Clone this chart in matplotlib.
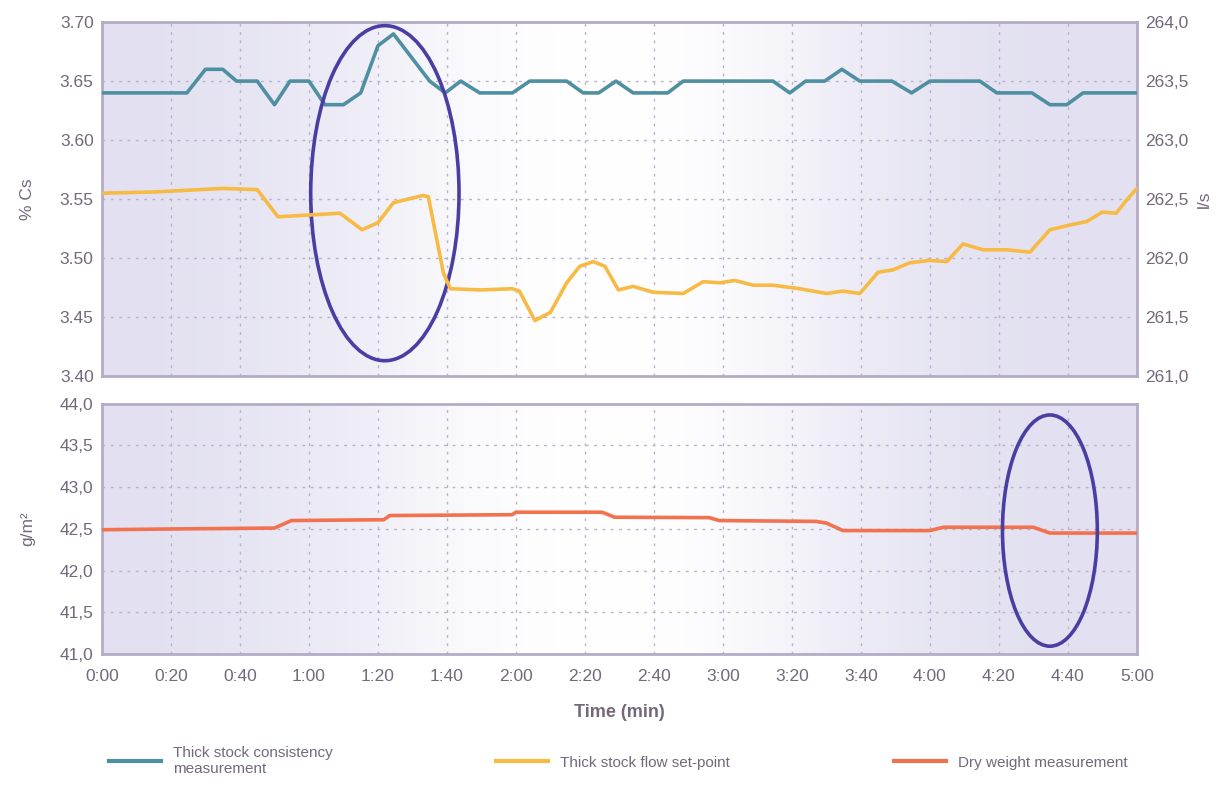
import matplotlib.pyplot as plt
import numpy as np
from matplotlib.colors import LinearSegmentedColormap
from matplotlib.lines import Line2D
from matplotlib.patches import Ellipse
from matplotlib.ticker import FuncFormatter, MultipleLocator

# time in seconds
t_cons = [0, 24.6, 30, 35, 39, 45, 50, 54.5, 60, 64.6, 70, 75, 80, 84.5, 95, 99.5,
          104, 109.5, 119, 124, 134.7, 139.5, 144, 149, 154, 164, 168.5, 194.5,
          199.4, 204, 209.5, 214.5, 219.7, 229, 234.7, 240, 254.5, 259.4, 269.6,
          274.8, 279.7, 284.4, 300]
v_cons = [3.64, 3.64, 3.66, 3.66, 3.65, 3.65, 3.63, 3.65, 3.65, 3.63, 3.63, 3.64,
          3.68, 3.69, 3.65, 3.64, 3.65, 3.64, 3.64, 3.65, 3.65, 3.64, 3.64, 3.65,
          3.64, 3.64, 3.65, 3.65, 3.64, 3.65, 3.65, 3.66, 3.65, 3.65, 3.64, 3.65,
          3.65, 3.64, 3.64, 3.63, 3.63, 3.64, 3.64]

t_flow = [0, 15, 35, 45, 51, 69, 75.4, 80, 84.5, 93, 94.6, 99, 101, 110, 119, 121,
          125.5, 130, 134.7, 138.5, 142.4, 145.8, 149.7, 154, 159.8, 168.5, 174.3,
          179, 183.5, 188.8, 194.5, 202.3, 210, 214.8, 219.7, 225, 229.3, 234.2,
          240, 244.9, 249.6, 255.4, 262.3, 269, 274.8, 280.6, 285.5, 290, 294, 297, 300]
v_flow = [262.55, 262.56, 262.59, 262.58, 262.35, 262.38, 262.24, 262.30, 262.47,
          262.53, 262.52, 261.87, 261.74, 261.73, 261.74, 261.72, 261.47, 261.54,
          261.79, 261.93, 261.97, 261.93, 261.73, 261.76, 261.71, 261.70, 261.80,
          261.79, 261.81, 261.77, 261.77, 261.74, 261.70, 261.72, 261.70, 261.88,
          261.90, 261.96, 261.98, 261.97, 262.12, 262.07, 262.07, 262.05, 262.24,
          262.28, 262.31, 262.39, 262.38, 262.49, 262.59]

t_dry = [0, 21.7, 50, 54.9, 81.7, 83.4, 118.9, 120, 145, 148.6, 176, 179, 207, 210,
         214.8, 240, 244, 270, 274.8, 300]
v_dry = [42.49, 42.50, 42.51, 42.60, 42.61, 42.66, 42.67, 42.70, 42.70, 42.64,
         42.635, 42.60, 42.59, 42.57, 42.48, 42.48, 42.52, 42.52, 42.45, 42.45]

x_ticks = list(range(0, 301, 20))
x_labels = [f"{s // 60}:{s % 60:02d}" for s in x_ticks]

labels = ["Thick stock consistency\nmeasurement", "Thick stock flow set-point",
          "Dry weight measurement"]

c_cons = "#4f8fa2"
c_flow = "#f7bb45"
c_dry = "#f2714f"
c_text = "#74687c"
c_frame = "#b4acc6"
c_grid = "#b8b2cc"
c_ring = "#4b3ea3"

plt.rcParams["font.family"] = ["Liberation Sans", "DejaVu Sans"]

fig = plt.figure(figsize=(12.29, 7.90), dpi=100)
ax1 = fig.add_axes([0.083, 0.524, 0.842, 0.448])
ax3 = fig.add_axes([0.083, 0.172, 0.842, 0.317])

bg = LinearSegmentedColormap.from_list("bg", ["#e3e1f1", "#ffffff"])
grad = np.array([[0.0, 0.15, 0.4, 0.85, 1.0, 1.0, 0.7, 0.25, 0.05, 0.0]])


def style(ax):
    ax.set_xlim(0, 300)
    ax.imshow(grad, cmap=bg, aspect="auto", extent=[0, 1, 0, 1],
              transform=ax.transAxes, zorder=0, interpolation="bicubic", vmin=0, vmax=1)
    ax.set_xticks(x_ticks)
    ax.grid(True, color=c_grid, linestyle=(0, (2, 4)), linewidth=1.0)
    for sp in ax.spines.values():
        sp.set_color(c_frame)
        sp.set_linewidth(2)
    ax.tick_params(length=0, labelsize=12.5, labelcolor=c_text, pad=6)
    ax.tick_params(axis="x", pad=11)


style(ax1)
ax1.set_ylim(3.40, 3.70)
ax1.yaxis.set_major_locator(MultipleLocator(0.05))
ax1.yaxis.set_major_formatter(FuncFormatter(lambda v, p: f"{v:.2f}"))
ax1.set_xticklabels([])
ax1.plot(t_cons, v_cons, color=c_cons, lw=2.6, zorder=3)
ax1.set_ylabel("% Cs", color=c_text, fontsize=12.5, labelpad=18)

ax2 = ax1.twinx()
ax2.set_ylim(261.0, 264.0)
ax2.yaxis.set_major_locator(MultipleLocator(0.5))
ax2.yaxis.set_major_formatter(FuncFormatter(lambda v, p: f"{v:.1f}".replace(".", ",")))
ax2.tick_params(length=0, labelsize=12.5, labelcolor=c_text, pad=6)
for sp in ax2.spines.values():
    sp.set_visible(False)
ax2.plot(t_flow, v_flow, color=c_flow, lw=2.6, zorder=3, solid_joinstyle="round")
ax2.set_ylabel("l/s", color=c_text, fontsize=12.5, labelpad=6)

ax1.add_patch(Ellipse((82, 3.555), 43, 0.284, fill=False, edgecolor=c_ring,
                      lw=2.6, zorder=5))

style(ax3)
ax3.set_ylim(41.0, 44.0)
ax3.yaxis.set_major_locator(MultipleLocator(0.5))
ax3.yaxis.set_major_formatter(FuncFormatter(lambda v, p: f"{v:.1f}".replace(".", ",")))
ax3.set_xticklabels(x_labels)
ax3.plot(t_dry, v_dry, color=c_dry, lw=2.6, zorder=3)
ax3.set_ylabel("g/m²", color=c_text, fontsize=12.5, labelpad=18)
ax3.set_xlabel("Time (min)", color=c_text, fontsize=13, fontweight="bold", labelpad=14)
ax3.add_patch(Ellipse((274.8, 42.48), 27.5, 2.77, fill=False, edgecolor=c_ring,
                      lw=2.6, zorder=5))

handles = [Line2D([], [], color=c, lw=3) for c in (c_cons, c_flow, c_dry)]
fig.legend(handles, labels, loc="lower center", bbox_to_anchor=(0.503, 0.0), ncol=3,
           frameon=False, fontsize=11, labelcolor=c_text, handlelength=3.4,
           columnspacing=10.7, handletextpad=0.8)

fig.savefig("out.png", dpi=100, facecolor="white")
